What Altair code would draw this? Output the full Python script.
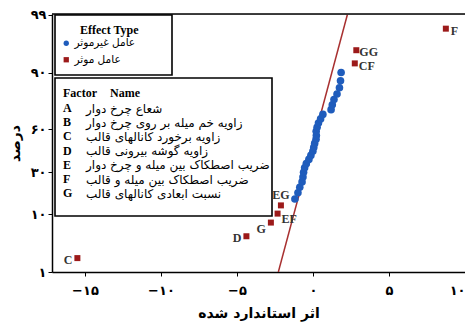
import altair as alt
import pandas as pd
from statistics import NormalDist

# ---------------- data ----------------
blue_x = [-1.19, -0.99, -0.87, -0.72, -0.66, -0.62, -0.55, -0.44, -0.27, -0.14,
          -0.01, 0.05, 0.11, 0.20, 0.22, 0.21, 0.27, 0.36, 0.50, 0.65,
          1.19, 1.27, 1.38, 1.58, 1.74, 1.81, 1.85]
blue_pct = [15.7, 18.6, 21.4, 24.3, 27.1, 30.0, 32.9, 35.7, 38.6, 41.4,
            44.3, 47.1, 50.0, 52.9, 55.7, 58.6, 61.4, 64.3, 67.1, 70.0,
            72.9, 75.7, 78.6, 81.4, 84.3, 87.1, 90.0]

red_names = ["C", "D", "G", "EF", "EG", "CF", "GG", "F"]
red_x = [-15.5, -4.38, -2.77, -2.33, -2.11, 2.75, 2.85, 8.74]
red_pct = [1.9, 4.65, 7.6, 10.2, 13.1, 92.6, 95.4, 98.1]

line_x = [-2.28, 2.26]
line_pct = [1.0, 99.0]

type_names = ["عامل غیرموثر", "عامل موثر"]

factor_letters = ["A", "B", "C", "D", "E", "F", "G"]
factor_names = [
    "شعاع چرخ دوار",
    "زاویه خم میله بر روی چرخ دوار",
    "زاویه برخورد کانالهای قالب",
    "زاویه گوشه بیرونی قالب",
    "ضریب اصطکاک بین میله و چرخ دوار",
    "ضریب اصطکاک بین میله و قالب",
    "نسبت ابعادی کانالهای قالب",
]

x_ticks = [-15, -10, -5, 0, 5, 10]
x_tick_labels = ["−۱۵", "−۱۰", "−۵", "۰", "۵", "۱۰"]
y_ticks_pct = [1, 10, 30, 60, 90, 99]
y_tick_labels = ["۱", "۱۰", "۳۰", "۶۰", "۹۰", "۹۹"]

x_title = "اثر استاندارد شده"
y_title = "درصد"

# ---------------- build ----------------
nd = NormalDist()
def probit(p):
    return nd.inv_cdf(p / 100.0)

pts = pd.DataFrame({
    "x": blue_x + red_x,
    "z": [probit(p) for p in blue_pct + red_pct],
    "type": [type_names[0]] * len(blue_x) + [type_names[1]] * len(red_x),
    "name": [""] * len(blue_x) + red_names,
})
line_df = pd.DataFrame({"x": line_x, "z": [probit(p) for p in line_pct]})
dummy = pd.DataFrame({"a": [0]})

y_tick_z = [probit(p) for p in y_ticks_pct]
y_expr = ""
for zv, lab in zip(y_tick_z, y_tick_labels):
    y_expr += f"abs(datum.value - ({zv:.6f})) < 0.001 ? '{lab}' : "
y_expr += "''"
x_expr = ""
for v, lab in zip(x_ticks, x_tick_labels):
    x_expr += f"datum.value == {v} ? '{lab}' : "
x_expr += "''"

W, H = 413, 258
TOP = 6
OFF = 12 - (8 + TOP)   # keep decorations at the same page position
XDOM = [-17.17, 10.0]
YDOM = [probit(1), 2.34]

SERIF = "Liberation Serif"
FA = "DejaVu Sans"
BLUE = "#1f5cbc"
RED = "#9c1a1a"

xs = alt.Scale(domain=XDOM, nice=False, zero=False)
ys = alt.Scale(domain=YDOM, nice=False, zero=False)

X = alt.X("x:Q", scale=xs, title=x_title,
          axis=alt.Axis(values=x_ticks, labelExpr=x_expr, grid=False,
                        labelFont=FA, labelFontSize=13, labelFontWeight="bold",
                        labelPadding=8, tickSize=4, titleFont=FA, titleFontSize=14,
                        titleFontWeight="bold", titlePadding=9,
                        domainColor="black", domainWidth=1.5, tickColor="black",
                        labelColor="black", titleColor="black"))
Y = alt.Y("z:Q", scale=ys, title=y_title,
          axis=alt.Axis(values=y_tick_z, labelExpr=y_expr, grid=False,
                        labelFont=FA, labelFontSize=13, labelFontWeight="bold",
                        labelPadding=2, tickSize=4, titleFont=FA, titleFontSize=14,
                        titleFontWeight="bold", titlePadding=8,
                        domainColor="black", domainWidth=1.5, tickColor="black",
                        labelColor="black", titleColor="black"))

legend = alt.Legend(orient="none", legendX=9, legendY=26 + OFF, title=None,
                    labelFont=FA, labelFontSize=10.5, labelColor="black",
                    symbolSize=28, symbolStrokeWidth=0, rowPadding=5.5,
                    labelOffset=3, padding=0)
color = alt.Color("type:N", scale=alt.Scale(domain=type_names, range=[BLUE, RED]),
                  legend=legend)
shape = alt.Shape("type:N", scale=alt.Scale(domain=type_names, range=["circle", "square"]),
                  legend=legend)

fit_line = alt.Chart(line_df).mark_line(color="#a83030", strokeWidth=1.5, clip=True).encode(
    x=X, y=Y)

blue_layer = alt.Chart(pts).transform_filter(
    alt.datum.type == type_names[0]).mark_point(filled=True, size=58, opacity=1).encode(
    x=X, y=Y, color=color, shape=shape)
red_layer = alt.Chart(pts).transform_filter(
    alt.datum.type == type_names[1]).mark_point(filled=True, size=36, opacity=1).encode(
    x=X, y=Y, color=color, shape=shape)

label_style = {
    "C": ("right", -5, 2), "D": ("right", -5, 2), "G": ("right", -5, 6),
    "EF": ("left", 4, 5), "EG": ("center", 0, -10), "CF": ("left", 4, 3),
    "GG": ("left", 3, 2), "F": ("left", 5, 2),
}
label_layers = []
for nm in red_names:
    al, dx, dy = label_style[nm]
    label_layers.append(
        alt.Chart(pts).transform_filter(alt.datum.name == nm).mark_text(
            align=al, dx=dx, dy=dy, baseline="middle", font=SERIF, fontSize=12,
            fontWeight="bold", color="#333333").encode(x=X, y=Y, text="name:N"))

def box(x1, y1, x2, y2):
    return alt.Chart(dummy).mark_rect(fill="white", stroke="black", strokeWidth=1.6).encode(
        x=alt.value(x1), x2=alt.value(x2), y=alt.value(y1 + OFF), y2=alt.value(y2 + OFF))

def txt(s, x, y, font, size, bold=True, align="left"):
    return alt.Chart(dummy).mark_text(align=align, baseline="middle", font=font,
                                      fontSize=size, fontWeight="bold" if bold else "normal",
                                      color="black").encode(
        x=alt.value(x), y=alt.value(y + OFF), text=alt.value(s))

deco = [box(3, 3, 120, 63), txt("Effect Type", 28, 18, SERIF, 12),
        box(3, 66, 220, 204),
        txt("Factor", 11, 81, SERIF, 12), txt("Name", 58, 81, SERIF, 12)]
for i, (lt, nm) in enumerate(zip(factor_letters, factor_names)):
    yy = 96 + 14.2 * i
    deco.append(txt(lt, 11, yy, SERIF, 12))
    deco.append(txt(nm, 34, yy + 0.5, FA, 12, bold=False))

top_rule = alt.Chart(dummy).mark_rule(color="black", strokeWidth=1.5).encode(
    x=alt.value(0), x2=alt.value(W), y=alt.value(0))

chart = alt.layer(fit_line, *deco, top_rule, blue_layer, red_layer, *label_layers).properties(
    width=W, height=H,
    autosize=alt.AutoSizeParams(type="none"),
    padding={"left": 44, "top": TOP, "right": 0, "bottom": 51},
).configure_view(stroke=None).configure(background="white")

chart.save("out.html", embed_options={"renderer": "svg", "actions": False})
